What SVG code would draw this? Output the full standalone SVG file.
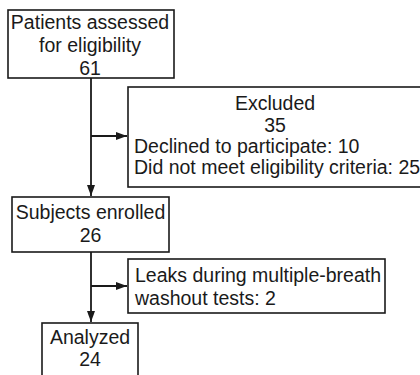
<svg xmlns="http://www.w3.org/2000/svg" width="420" height="375" viewBox="0 0 420 375">
<defs>
<style>
.box{fill:#fff;stroke:#1a1a1a;stroke-width:1.6}
.t{font-family:"Liberation Sans",Arial,sans-serif;font-size:19.5px;fill:#1a1a1a}
.c{text-anchor:middle}
.ln{stroke:#1a1a1a;stroke-width:1.8;fill:none}
</style>
<marker id="ah" viewBox="0 0 11 8" refX="11" refY="4" markerWidth="11" markerHeight="8" markerUnits="userSpaceOnUse" orient="auto">
<path d="M0,0 L11,4 L0,8 z" fill="#1a1a1a"/>
</marker>
</defs>
<rect width="420" height="375" fill="#fff"/>
<g id="connectors">
<line class="ln" x1="91" y1="78" x2="91" y2="196" marker-end="url(#ah)"/>
<line class="ln" x1="91" y1="136" x2="127" y2="136" marker-end="url(#ah)"/>
<line class="ln" x1="91" y1="252" x2="91" y2="322" marker-end="url(#ah)"/>
<line class="ln" x1="91" y1="286" x2="127" y2="286" marker-end="url(#ah)"/>
</g>
<g id="assessed">
<rect class="box" x="8" y="10" width="166" height="68"/>
<text class="t c" x="90" y="29">Patients assessed</text>
<text class="t c" x="90" y="52">for eligibility</text>
<text class="t c" x="90" y="75">61</text>
</g>
<g id="excluded">
<rect class="box" x="128" y="87" width="300" height="100"/>
<text class="t c" x="275" y="110">Excluded</text>
<text class="t c" x="275" y="132">35</text>
<text class="t" x="134" y="153">Declined to participate: 10</text>
<text class="t" x="134" y="174">Did not meet eligibility criteria: 25</text>
</g>
<g id="enrolled">
<rect class="box" x="12" y="197" width="157" height="55"/>
<text class="t c" x="90.5" y="219">Subjects enrolled</text>
<text class="t c" x="90.5" y="242">26</text>
</g>
<g id="leaks">
<rect class="box" x="128" y="259" width="257" height="54"/>
<text class="t" x="135" y="282">Leaks during multiple-breath</text>
<text class="t" x="135" y="305">washout tests: 2</text>
</g>
<g id="analyzed">
<rect class="box" x="42" y="323" width="96" height="60"/>
<text class="t c" x="90" y="344">Analyzed</text>
<text class="t c" x="90" y="366">24</text>
</g>
</svg>
